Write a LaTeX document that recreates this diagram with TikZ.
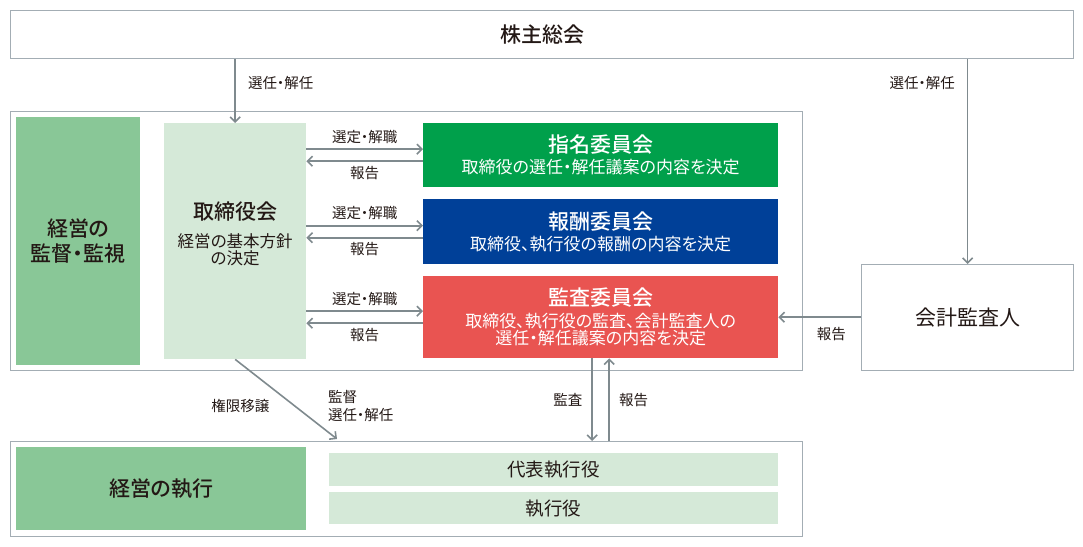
\documentclass[tikz,border=0pt]{standalone}
\usepackage{fontspec}
\IfFontExistsTF{Noto Sans CJK JP Medium}
  {\setmainfont[RawFeature=+palt, BoldFont={Noto Sans CJK JP Medium}]{Noto Sans CJK JP}}
  {\setmainfont[RawFeature=+palt]{Noto Sans CJK JP}}
\usetikzlibrary{arrows.meta,calc}
\definecolor{framegray}{HTML}{A3ADB4}
\definecolor{arrowgray}{HTML}{7F8A8E}
\definecolor{inkdark}{HTML}{231815}
\definecolor{midgreen}{HTML}{89C797}
\definecolor{palegreen}{HTML}{D5E9D8}
\definecolor{shimeigreen}{HTML}{00A04B}
\definecolor{houshublue}{HTML}{004098}
\definecolor{kansared}{HTML}{E95451}

\begin{document}
\begin{tikzpicture}[
x=1pt, y=-1pt,
every node/.style = {text=inkdark, inner sep=0pt},
frame/.style = {draw=framegray, line width=1.3pt, anchor=north west},
block/.style = {anchor=north west, align=center},
arr/.style = {draw=arrowgray, line width=1.6pt, -{Straight Barb[length=5pt,width=10pt]}},
lbl/.style = {font=\fontsize{14.5}{18}\selectfont},
big/.style = {font=\bfseries\fontsize{21}{25}\selectfont},
sub/.style = {font=\fontsize{17}{20}\selectfont}
                        ]
\useasboundingbox (0,0) rectangle (1083,546);
% shareholders
\node[frame, minimum width=1063pt, minimum height=48pt, big] (soukai) at (10,10) {株主総会};
% board area
\node[frame, minimum width=792pt, minimum height=259pt] (board) at (10,111) {};
\node[block, fill=midgreen, minimum width=124pt, minimum height=248pt, big] (kantoku) at (16,117)
    {経営の\\監督・監視};
\node[block, fill=palegreen, minimum width=142pt, minimum height=236pt] (torishimari) at (164,123)
    {{\bfseries\fontsize{21}{25}\selectfont 取締役会}\\[12pt]
     {\fontsize{16.5}{19}\selectfont 経営の基本方針}\\
     {\fontsize{16.5}{19}\selectfont の決定}\\[5pt]};
%
\node[block, fill=shimeigreen, minimum width=355pt, minimum height=64pt, text=white] (shimei) at (423,123)
    {{\bfseries\fontsize{21}{25}\selectfont 指名委員会}\\[4pt]
     {\fontsize{17}{19}\selectfont 取締役の選任・解任議案の内容を決定}};
\node[block, fill=houshublue, minimum width=355pt, minimum height=65pt, text=white] (houshu) at (423,199)
    {{\bfseries\fontsize{21}{25}\selectfont 報酬委員会}\\[4pt]
     {\fontsize{17}{19}\selectfont 取締役、執行役の報酬の内容を決定}};
\node[block, fill=kansared, minimum width=355pt, minimum height=82pt, text=white] (kansa) at (423,276)
    {{\bfseries\fontsize{21}{25}\selectfont 監査委員会}\\[5pt]
     {\fontsize{17}{20}\selectfont 取締役、執行役の監査、会計監査人の}\\
     {\fontsize{17}{20}\selectfont 選任・解任議案の内容を決定}};
% auditor
\node[frame, minimum width=212pt, minimum height=106pt, font=\fontsize{21}{25}\selectfont] (kaikei) at (861,264)
    {会計監査人};
% execution area
\node[frame, minimum width=792pt, minimum height=95pt] (shikkou) at (10,441) {};
\node[block, fill=midgreen, minimum width=290pt, minimum height=83pt, big] (keiei) at (16,447) {経営の執行};
\node[block, fill=palegreen, minimum width=449pt, minimum height=33pt, font=\fontsize{18.5}{22}\selectfont] (daihyou) at (329,453) {代表執行役};
\node[block, fill=palegreen, minimum width=449pt, minimum height=32pt, font=\fontsize{18.5}{22}\selectfont] (shikkouyaku) at (329,492) {執行役};

% arrows from the shareholders
\draw[arr] (torishimari.north |- soukai.south) -- node[lbl, pos=0.37, right=12pt] (senninL) {選任・解任} (torishimari.north);
\draw[arr] (kaikei.north |- soukai.south) -- node[lbl, pos=0.115, left=12pt] (senninR) {選任・解任} (kaikei.north);
% board <-> committees
\foreach \c in {shimei, houshu, kansa}
{
    \draw[arr] ($(torishimari.east |- \c.west)+(0,6pt)$) -- node[lbl, above=5pt] (sentei-\c) {選定・解職} ($(\c.west)+(0,6pt)$);
    \draw[arr] ($(\c.west)+(0,-6pt)$) -- node[lbl, below=4pt] (houkoku-\c) {報告} ($(torishimari.east |- \c.west)+(0,-6pt)$);
}
% auditor report
\draw[arr] (kaikei.west |- kansa.east) -- node[lbl, pos=0.36, below=9pt] (houkokuK) {報告} (kansa.east);
% delegation
\coordinate (delegend) at (337,439);
\draw[arr] (torishimari.south) -- node[lbl, pos=0.58, left=24pt] (kengen) {権限移譲}
    node[lbl, pos=0.58, right=33pt, align=left] (kantokuL) {監督\\選任・解任} (delegend);
% audit and report
\coordinate (audit) at ($(kansa.south)+(-8.5pt,0)$);
\coordinate (report) at ($(kansa.south)+(8.5pt,0)$);
\draw[arr] (audit) -- node[lbl, left=9pt] (kansaL) {監査} (audit |- shikkou.north);
\draw[arr] (report |- shikkou.north) -- node[lbl, right=9pt] (houkokuE) {報告} (report);

\end{tikzpicture}
\end{document}
